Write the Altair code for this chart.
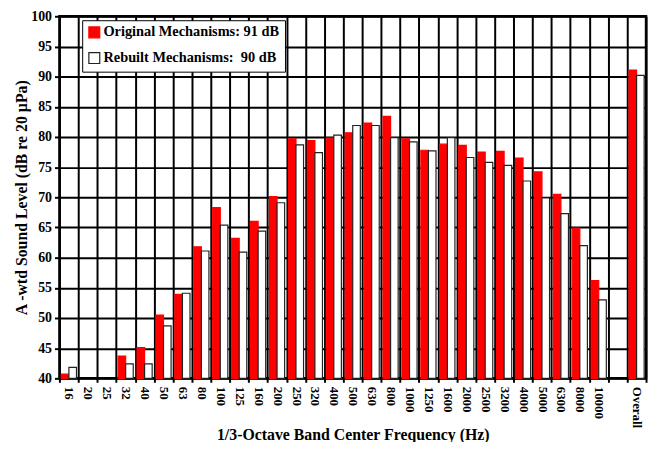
import altair as alt
import pandas as pd

bands = ["16", "20", "25", "32", "40", "50", "63", "80", "100", "125", "160", "200",
         "250", "320", "400", "500", "630", "800", "1000", "1250", "1600", "2000",
         "2500", "3200", "4000", "5000", "6300", "8000", "10000", " ", "Overall"]

original = [40.7, None, None, 43.7, 45.1, 50.5, 53.9, 61.8, 68.3, 63.2, 66.0, 70.1,
            79.7, 79.4, 79.8, 80.7, 82.3, 83.4, 79.7, 77.8, 78.8, 78.6,
            77.5, 77.6, 76.5, 74.2, 70.5, 64.9, 56.2, None, 91.1]

rebuilt = [41.8, None, None, 42.4, 42.4, 48.7, 54.1, 61.1, 65.4, 60.9, 64.4, 69.1,
           78.7, 77.4, 80.3, 81.9, 81.9, 79.9, 79.2, 77.7, 79.9, 76.6,
           75.8, 75.3, 72.7, 69.9, 67.3, 62.0, 53.0, None, 90.2]

NB = "\u00a0"
series_names = ["Original Mechanisms: 91 dB" + NB * 24,
                "Rebuilt Mechanisms:" + NB + " 90 dB" + NB * 24]

y_ticks = [40, 45, 50, 55, 60, 65, 70, 75, 80, 85, 90, 95, 100]

rows = []
for b, o, r in zip(bands, original, rebuilt):
    if o is not None:
        rows.append({"band": b, "series": series_names[0], "value": o})
    if r is not None:
        rows.append({"band": b, "series": series_names[1], "value": r})
df = pd.DataFrame(rows)

FONT = "Liberation Serif"

legend = alt.Legend(
    title=None, orient="none", legendX=23, legendY=4, direction="vertical",
    fillColor="white", strokeColor="black", padding=5, rowPadding=9,
    symbolType="square", symbolSize=121, symbolStrokeWidth=1.2,
    labelFont=FONT, labelFontSize=14.5, labelFontWeight="bold", labelColor="black",
    labelOffset=2, labelLimit=400,
)

chart = alt.Chart(df).mark_bar(strokeWidth=1.2).encode(
    x=alt.X(
        "band:N", sort=bands,
        scale=alt.Scale(domain=bands, paddingInner=0, paddingOuter=0),
        axis=alt.Axis(
            title="1/3-Octave Band Center Frequency (Hz)",
            labelAngle=90, tickBand="extent", grid=True, gridColor="#000000",
            gridWidth=2, gridOpacity=1, ticks=True, tickColor="#000000", tickSize=4,
            tickWidth=2, domain=False, labelFont=FONT, labelFontSize=13,
            labelFontWeight="bold", labelColor="black", labelPadding=4,
            titleFont=FONT, titleFontSize=16, titleFontWeight="bold",
            titleColor="black", titleY=57, titleBaseline="middle",
        ),
    ),
    xOffset=alt.XOffset(
        "series:N", sort=series_names,
        scale=alt.Scale(domain=series_names, paddingInner=0, paddingOuter=0.25),
    ),
    y=alt.Y(
        "value:Q",
        scale=alt.Scale(domain=[40, 100], nice=False, zero=False),
        axis=alt.Axis(
            title="A -wtd Sound Level (dB re 20 µPa)", values=y_ticks,
            grid=True, gridColor="#000000", gridWidth=2, gridOpacity=1,
            tickColor="#000000", tickSize=5, tickWidth=2, domain=False,
            labelFont=FONT, labelFontSize=14, labelFontWeight="bold",
            labelColor="black", labelPadding=3,
            titleFont=FONT, titleFontSize=16, titleFontWeight="bold",
            titleColor="black", titleX=-38, titleY=183, titleAngle=-90,
            titleAlign="center", titleBaseline="middle",
        ),
    ),
    y2=alt.datum(40),
    fill=alt.Fill("series:N", sort=series_names,
                  scale=alt.Scale(domain=series_names, range=["#ff0000", "#ffffff"]),
                  legend=legend),
    stroke=alt.Stroke("series:N", sort=series_names,
                      scale=alt.Scale(domain=series_names, range=["#ff0000", "#222222"]),
                      legend=legend),
).properties(
    width=593, height=366,
    padding={"left": 52, "top": 6, "right": 4, "bottom": 62},
    autosize=alt.AutoSizeParams(type="none"),
    background="white",
).configure_view(
    stroke="black", strokeWidth=2.5,
)

chart.save("out.html", embed_options={"renderer": "svg", "actions": False})
